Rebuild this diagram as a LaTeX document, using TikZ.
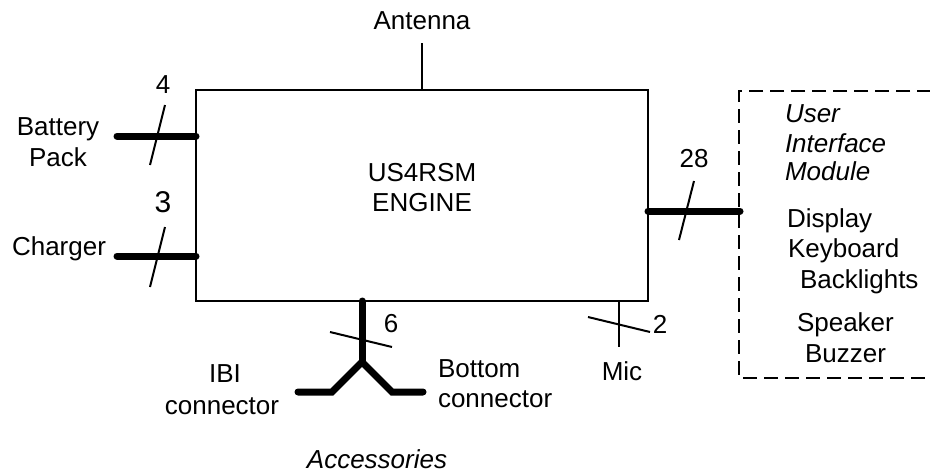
\documentclass[tikz,border=0pt]{standalone}
\usepackage{fontspec}
\setmainfont{Liberation Sans}
\begin{document}
\begin{tikzpicture}[x=1pt,y=-1pt,
  txt/.style={inner sep=0pt,outer sep=0pt,font=\fontsize{26}{30}\selectfont,anchor=base},
  txtw/.style={txt,anchor=base west},
  itx/.style={txt,font=\fontsize{26}{30}\selectfont\itshape},
  thin/.style={line width=2pt},
  bus/.style={line width=7pt,line cap=round},
  dashbox/.style={line width=2pt,dash pattern=on 14pt off 7pt}]
\useasboundingbox (0,0) rectangle (930,472);
% engine box
\node[draw,thin,minimum width=452pt,minimum height=211pt,inner sep=0pt,outer sep=0pt] (engine) at (422,195.5) {};
\node[txt] (t1) at (422,181) {US4RSM};
\node[txt] (t2) at (422,211) {ENGINE};
% antenna
\coordinate (antTop) at (422,43);
\draw[thin] (antTop) -- (engine.north);
\node[txt] (ant) at (422,29) {Antenna};
% battery
\coordinate (batL) at (117,136);
\coordinate (batR) at (196,136);
\draw[bus] (batL) -- (batR);
\coordinate (bs1) at (150,165); \coordinate (bs2) at (165,105);
\draw[thin] (bs1) -- (bs2);
\node[txt] (n4) at (163,93) {4};
\node[txt] (bat1) at (58,135) {Battery};
\node[txt] (bat2) at (58,166) {Pack};
% charger
\coordinate (chL) at (117,256);
\coordinate (chR) at (196,256);
\draw[bus] (chL) -- (chR);
\coordinate (cs1) at (150,287); \coordinate (cs2) at (165,227);
\draw[thin] (cs1) -- (cs2);
\node[txt,font=\fontsize{30}{34}\selectfont] (n3) at (163,212) {3};
\node[txt] (ch) at (59,255) {Charger};
% right bus
\coordinate (rL) at (648,211);
\coordinate (rR) at (740,211);
\draw[bus] (rL) -- (rR);
\coordinate (rs1) at (679,240); \coordinate (rs2) at (694,181);
\draw[thin] (rs1) -- (rs2);
\node[txt] (n28) at (694,167) {28};
% UI module dashed box
\coordinate (dTR) at (931,91);
\coordinate (dTL) at (739,91);
\coordinate (dBL) at (739,378);
\coordinate (dBR) at (931,378);
\draw[dashbox] (dTR) -- (dTL) -- (dBL) -- (dBR);
\node[itx,anchor=base west] (u1) at (785,122) {User};
\node[itx,anchor=base west] (u2) at (785,152) {Interface};
\node[itx,anchor=base west] (u3) at (785,180) {Module};
\node[txtw] (d1) at (787,227) {Display};
\node[txtw] (d2) at (788,257) {Keyboard};
\node[txtw] (d3) at (800,288) {Backlights};
\node[txtw] (d4) at (797,331) {Speaker};
\node[txtw] (d5) at (805,362) {Buzzer};
% bottom accessories bus
\coordinate (bTop) at (362,301);
\coordinate (bY) at (362,362);
\coordinate (bL2) at (332,392); \coordinate (bL1) at (298,392);
\coordinate (bR2) at (392,392); \coordinate (bR1) at (423,392);
\draw[bus] (bTop) -- (bY);
\draw[bus] (bL1) -- (bL2) -- (bY) -- (bR2) -- (bR1);
\coordinate (bs3) at (330,332); \coordinate (bs4) at (392,347);
\draw[thin] (bs3) -- (bs4);
\node[txt] (n6) at (391,332) {6};
\node[txt] (ibi1) at (225,382) {IBI};
\node[txt] (ibi2) at (222,414) {connector};
\node[txtw] (bot1) at (438,377) {Bottom};
\node[txtw] (bot2) at (438,407) {connector};
\node[itx] (acc) at (377,468) {Accessories};
% mic
\coordinate (micTop) at (619,301);
\coordinate (micBot) at (619,347);
\draw[thin] (micTop) -- (micBot);
\coordinate (ms1) at (588,317); \coordinate (ms2) at (650,332);
\draw[thin] (ms1) -- (ms2);
\node[txt] (n2) at (660,333) {2};
\node[txt] (mic) at (622,380) {Mic};
\end{tikzpicture}
\end{document}
